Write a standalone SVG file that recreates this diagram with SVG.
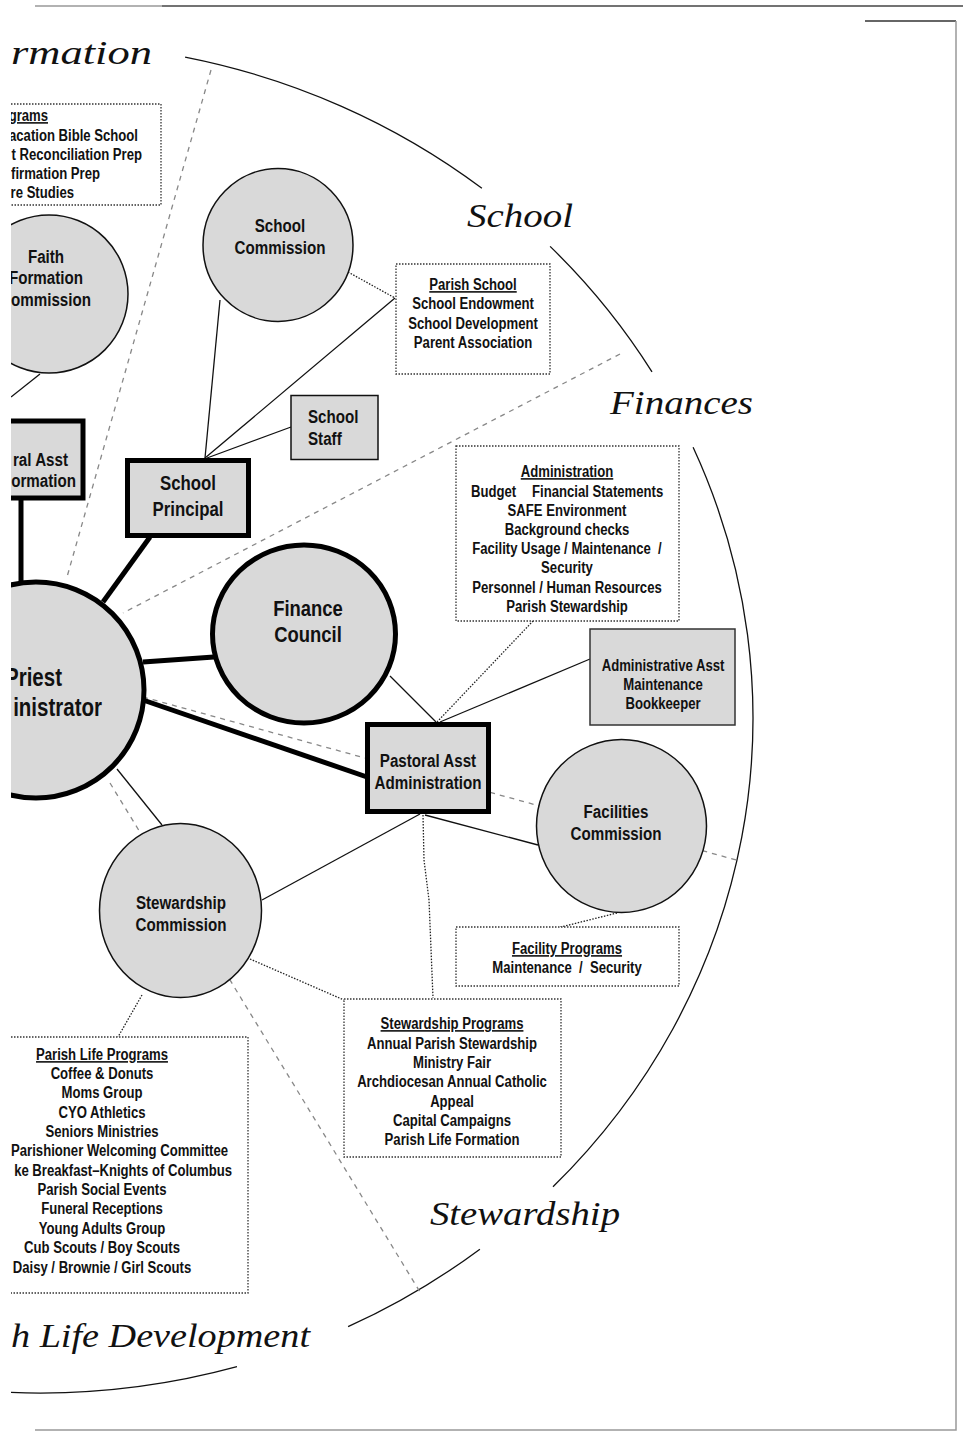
<svg xmlns="http://www.w3.org/2000/svg" width="963" height="1440" viewBox="0 0 963 1440">
<defs>
<clipPath id="cut"><rect x="11" y="0" width="952" height="1440"/></clipPath>
<style>
.n{fill:#d9d9d9;stroke:#111;stroke-width:1.5}
.nt{fill:#d9d9d9;stroke:#000;stroke-width:5}
.box{fill:#fff;stroke:#333;stroke-width:1.3;stroke-dasharray:1.5 1.5}
.t{font-family:"Liberation Sans Narrow","Liberation Sans",Arial,sans-serif;font-weight:bold;fill:#111}
.lbl{font-size:18.5px;text-anchor:middle}
.lst{font-size:16px;text-anchor:middle}
.e{text-anchor:end}
.u{text-decoration:underline}
.scr{font-family:"Liberation Serif",serif;font-style:italic;font-size:34px;fill:#111}
.dash{fill:none;stroke:#888;stroke-width:1.3;stroke-dasharray:5 5}
.thick{fill:none;stroke:#000;stroke-width:5}
.thin{fill:none;stroke:#111;stroke-width:1.3}
.dot{fill:none;stroke:#222;stroke-width:1.3;stroke-dasharray:1.5 1.5}
.arc{fill:none;stroke:#111;stroke-width:1.3}
.frame{fill:none;stroke:#999;stroke-width:1.5}
</style>
</defs>
<rect width="963" height="1440" fill="#fff"/>
<g id="frame">
<path class="frame" d="M35 6H162"/>
<path d="M162 6H963" fill="none" stroke="#444" stroke-width="1.5"/>
<path d="M865 21H956" fill="none" stroke="#333" stroke-width="1.5"/>
<path class="frame" d="M956 21V1430H35"/>
</g>
<g clip-path="url(#cut)">
<g id="outer-ring">
<path class="arc" d="M185.1 57.1A713 675 0 0 1 481.9 188.3"/>
<path class="arc" d="M550.1 246.4A713 675 0 0 1 652 371.9"/>
<path class="arc" d="M693.1 447.3A713 675 0 0 1 553 1186.8"/>
<path class="arc" d="M479.9 1249.2A713 675 0 0 1 348.1 1326.7"/>
<path class="arc" d="M237 1366.7A713 675 0 0 1 2.7 1392.1"/>
<text class="scr" x="11" y="64" textLength="141" lengthAdjust="spacingAndGlyphs">rmation</text>
<text class="scr" x="467" y="227" textLength="106" lengthAdjust="spacingAndGlyphs">School</text>
<text class="scr" x="610" y="414" textLength="143" lengthAdjust="spacingAndGlyphs">Finances</text>
<text class="scr" x="430" y="1225" textLength="190" lengthAdjust="spacingAndGlyphs">Stewardship</text>
<text class="scr" x="11" y="1347" textLength="299" lengthAdjust="spacingAndGlyphs">h Life Development</text>
</g>
<g id="connectors">
<path class="dash" d="M211 70L67 577"/>
<path class="dash" d="M620 354L123 613"/>
<path class="dash" d="M143 697L740 861"/>
<path class="dash" d="M110 783L420 1292"/>
<path class="thick" d="M21 500V582"/>
<path class="thick" d="M103 602L150 537"/>
<path class="thick" d="M143 662L214 657"/>
<path class="thick" d="M143 700L367 777"/>
<path class="thin" d="M40 374L11 397"/>
<path class="thin" d="M220 300L205 458"/>
<path class="thin" d="M205 458L395 298"/>
<path class="thin" d="M207 458L291 427"/>
<path class="thin" d="M390 676L436 722"/>
<path class="thin" d="M440 722L590 659"/>
<path class="thin" d="M420 814L262 900"/>
<path class="thin" d="M425 815L538 845"/>
<path class="thin" d="M117 769L162 825"/>
<path class="dot" d="M348 272L395 298"/>
<path class="dot" d="M437 722L533 621"/>
<path class="dot" d="M423 815L424 860L429 900L433 998"/>
<path class="dot" d="M617 913L557 928"/>
<path class="dot" d="M250 959L344 1000"/>
<path class="dot" d="M142 995L118 1037"/>
</g>
<g id="faith-programs">
<rect class="box" x="-10" y="104" width="171" height="101"/>
<text class="t lst e u" transform="matrix(.82 0 0 1 48 0)" x="0" y="121">grams</text>
<text class="t lst e" transform="matrix(.82 0 0 1 138 0)" x="0" y="141">acation Bible School</text>
<text class="t lst e" transform="matrix(.82 0 0 1 142 0)" x="0" y="160">t Reconciliation Prep</text>
<text class="t lst e" transform="matrix(.82 0 0 1 100 0)" x="0" y="179">firmation Prep</text>
<text class="t lst e" transform="matrix(.82 0 0 1 74 0)" x="0" y="198">re Studies</text>
</g>
<g id="faith-commission">
<ellipse class="n" cx="49" cy="294" rx="79" ry="79"/>
<text class="t lbl" transform="matrix(.82 0 0 1 46 0)"><tspan x="0" y="263">Faith</tspan><tspan x="0" y="284">Formation</tspan></text>
<text class="t lbl e" transform="matrix(.82 0 0 1 91 0)" x="0" y="306">ommission</text>
</g>
<g id="school-commission">
<ellipse class="n" cx="278" cy="245" rx="75" ry="76.5"/>
<text class="t lbl" transform="matrix(.82 0 0 1 280 0)"><tspan x="0" y="232">School</tspan><tspan x="0" y="254">Commission</tspan></text>
</g>
<g id="parish-school">
<rect class="box" x="396" y="264" width="154" height="110"/>
<text class="t lst" transform="matrix(.82 0 0 1 473 0)"><tspan class="u" x="0" y="290">Parish School</tspan><tspan x="0" y="309">School Endowment</tspan><tspan x="0" y="329">School Development</tspan><tspan x="0" y="348">Parent Association</tspan></text>
</g>
<g id="school-staff">
<rect class="n" x="291" y="395.5" width="87" height="64"/>
<text class="t" font-size="18.5px" transform="matrix(.82 0 0 1 308 0)"><tspan x="0" y="423">School</tspan><tspan x="0" y="445">Staff</tspan></text>
</g>
<g id="pastoral-formation">
<rect class="nt" x="-30" y="421" width="113" height="77"/>
<text class="t lbl e" transform="matrix(.82 0 0 1 68 0)" x="0" y="466">ral Asst</text>
<text class="t lbl e" transform="matrix(.82 0 0 1 76 0)" x="0" y="487">ormation</text>
</g>
<g id="school-principal">
<rect class="nt" x="127.5" y="460.5" width="121" height="75"/>
<text class="t" font-size="20.5px" text-anchor="middle" transform="matrix(.82 0 0 1 188 0)"><tspan x="0" y="490">School</tspan><tspan x="0" y="516">Principal</tspan></text>
</g>
<g id="priest">
<circle class="nt" cx="36" cy="690" r="108"/>
<text class="t e" font-size="25px" transform="matrix(.82 0 0 1 62 0)" x="0" y="686">Priest</text>
<text class="t e" font-size="25px" transform="matrix(.82 0 0 1 102 0)" x="0" y="716">inistrator</text>
</g>
<g id="finance-council">
<ellipse class="nt" cx="304" cy="634" rx="91.5" ry="89"/>
<text class="t" font-size="22.5px" text-anchor="middle" transform="matrix(.82 0 0 1 308 0)"><tspan x="0" y="616">Finance</tspan><tspan x="0" y="642">Council</tspan></text>
</g>
<g id="administration">
<rect class="box" x="456" y="446" width="223" height="175"/>
<text class="t lst" xml:space="preserve" transform="matrix(.82 0 0 1 567 0)"><tspan class="u" x="0" y="477">Administration</tspan><tspan x="0" y="554">Facility Usage / Maintenance  /</tspan></text>
<text class="t" font-size="16px" transform="matrix(.82 0 0 1 471 0)"><tspan x="0" y="497">Budget</tspan><tspan x="74.4" y="497">Financial Statements</tspan></text>
<text class="t lst" transform="matrix(.82 0 0 1 567 0)"><tspan x="0" y="516">SAFE Environment</tspan><tspan x="0" y="535">Background checks</tspan><tspan x="0" y="573">Security</tspan><tspan x="0" y="593">Personnel / Human Resources</tspan><tspan x="0" y="612">Parish Stewardship</tspan></text>
</g>
<g id="admin-asst">
<rect class="n" x="590" y="629" width="145" height="96" style="stroke:#333"/>
<text class="t lst" transform="matrix(.82 0 0 1 663 0)"><tspan x="0" y="671">Administrative Asst</tspan><tspan x="0" y="690">Maintenance</tspan><tspan x="0" y="709">Bookkeeper</tspan></text>
</g>
<g id="pastoral-admin">
<rect class="nt" x="367.5" y="724.5" width="121" height="87"/>
<text class="t lbl" transform="matrix(.82 0 0 1 428 0)"><tspan x="0" y="767">Pastoral Asst</tspan><tspan x="0" y="789">Administration</tspan></text>
</g>
<g id="facilities-commission">
<ellipse class="n" cx="621.5" cy="826" rx="85" ry="86.5"/>
<text class="t lbl" transform="matrix(.82 0 0 1 616 0)"><tspan x="0" y="818">Facilities</tspan><tspan x="0" y="840">Commission</tspan></text>
</g>
<g id="facility-programs">
<rect class="box" x="456" y="927" width="223" height="59"/>
<text class="t lst" xml:space="preserve" transform="matrix(.82 0 0 1 567 0)"><tspan class="u" x="0" y="954">Facility Programs</tspan><tspan x="0" y="973">Maintenance  /  Security</tspan></text>
</g>
<g id="stewardship-commission">
<ellipse class="n" cx="180.5" cy="910.5" rx="81" ry="87"/>
<text class="t lbl" transform="matrix(.82 0 0 1 181 0)"><tspan x="0" y="909">Stewardship</tspan><tspan x="0" y="931">Commission</tspan></text>
</g>
<g id="stewardship-programs">
<rect class="box" x="344" y="999" width="217" height="158"/>
<text class="t lst" transform="matrix(.82 0 0 1 452 0)"><tspan class="u" x="0" y="1029">Stewardship Programs</tspan><tspan x="0" y="1049">Annual Parish Stewardship</tspan><tspan x="0" y="1068">Ministry Fair</tspan><tspan x="0" y="1087">Archdiocesan Annual Catholic</tspan><tspan x="0" y="1107">Appeal</tspan><tspan x="0" y="1126">Capital Campaigns</tspan><tspan x="0" y="1145">Parish Life Formation</tspan></text>
</g>
<g id="parish-life-programs">
<rect class="box" x="-10" y="1037" width="258" height="256"/>
<text class="t lst" transform="matrix(.82 0 0 1 102 0)"><tspan class="u" x="0" y="1060">Parish Life Programs</tspan><tspan x="0" y="1079">Coffee &amp; Donuts</tspan><tspan x="0" y="1098">Moms Group</tspan><tspan x="0" y="1118">CYO Athletics</tspan><tspan x="0" y="1137">Seniors Ministries</tspan><tspan x="0" y="1195">Parish Social Events</tspan><tspan x="0" y="1214">Funeral Receptions</tspan><tspan x="0" y="1234">Young Adults Group</tspan><tspan x="0" y="1253">Cub Scouts / Boy Scouts</tspan><tspan x="0" y="1273">Daisy / Brownie / Girl Scouts</tspan></text>
<text class="t lst e" transform="matrix(.82 0 0 1 228 0)"><tspan x="0" y="1156">Parishioner Welcoming Committee</tspan><tspan x="4.9" y="1176">ke Breakfast–Knights of Columbus</tspan></text>
</g>
</g>
</svg>
